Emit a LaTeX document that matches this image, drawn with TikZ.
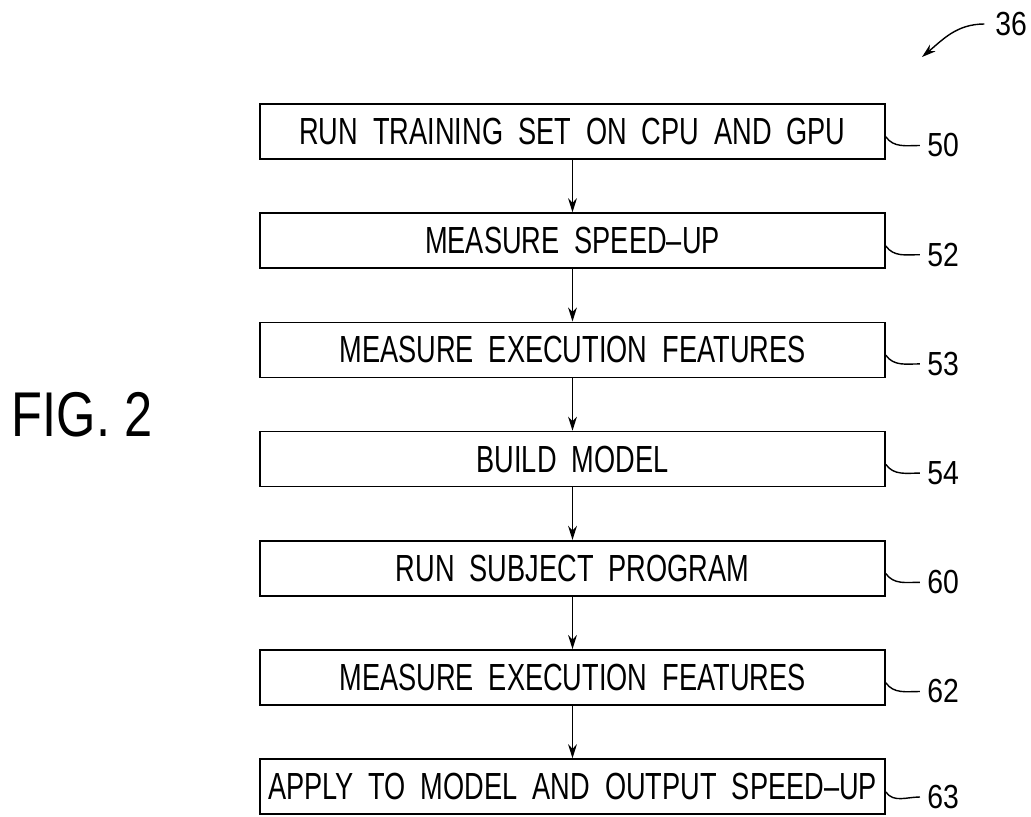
\documentclass[tikz,border=0pt]{standalone}
\usepackage{fontspec}
\setmainfont{Liberation Sans}[FakeStretch=0.72]
\newfontfamily\numfont{Liberation Sans}[FakeStretch=0.85]
\newfontfamily\figfont{Liberation Sans}[FakeStretch=0.8]
\usetikzlibrary{arrows.meta}
\newcommand\stepfont{\fontsize{21.5}{24}\selectfont\spaceskip=0.3cm\relax}
\tikzset{
  stepbox/.style={draw, line width=1pt, minimum width=12.5cm, minimum height=1.1cm, inner sep=0pt, font=\stepfont},
  reflabel/.style={anchor=west, inner sep=0pt, font=\numfont\fontsize{19}{21}\selectfont},
  leader/.style={line width=0.8pt},
  flow/.style={line width=1pt, -{Stealth[length=8pt,width=5pt]}}
}
\begin{document}
\begin{tikzpicture}[x=0.02cm, y=0.02cm]
      \useasboundingbox (0,0) rectangle (1031,816);
      \node[stepbox] (s50) at (572.5,684.5) {RUN TRAINING SET ON CPU AND GPU};
      \node[stepbox] (s52) at (572.5,575.3) {MEASURE SPEED--UP};
      \node[stepbox] (s53) at (572.5,466.1) {MEASURE EXECUTION FEATURES};
      \node[stepbox] (s54) at (572.5,356.9) {BUILD MODEL};
      \node[stepbox] (s60) at (572.5,247.7) {RUN SUBJECT PROGRAM};
      \node[stepbox] (s62) at (572.5,138.5) {MEASURE EXECUTION FEATURES};
      \node[stepbox] (s63) at (572.5,29.3) {APPLY TO MODEL AND OUTPUT SPEED--UP};
      \draw[flow] (s50) -- (s52);
      \draw[flow] (s52) -- (s53);
      \draw[flow] (s53) -- (s54);
      \draw[flow] (s54) -- (s60);
      \draw[flow] (s60) -- (s62);
      \draw[flow] (s62) -- (s63);
      \node[reflabel] (l50) at (927,670.5) {50};
      \node[reflabel] (l52) at (927,561.3) {52};
      \node[reflabel] (l53) at (927,452.1) {53};
      \node[reflabel] (l54) at (927,342.9) {54};
      \node[reflabel] (l60) at (927,233.7) {60};
      \node[reflabel] (l62) at (927,124.5) {62};
      \node[reflabel] (l63) at (927,19) {63};
      \draw[leader] ([yshift=-3]s50.east) to[out=-55,in=180] ([xshift=-4]l50.west);
      \draw[leader] ([yshift=-3]s52.east) to[out=-55,in=180] ([xshift=-4]l52.west);
      \draw[leader] ([yshift=-3]s53.east) to[out=-55,in=180] ([xshift=-4]l53.west);
      \draw[leader] ([yshift=-3]s54.east) to[out=-55,in=180] ([xshift=-4]l54.west);
      \draw[leader] ([yshift=-3]s60.east) to[out=-55,in=180] ([xshift=-4]l60.west);
      \draw[leader] ([yshift=-3]s62.east) to[out=-55,in=180] ([xshift=-4]l62.west);
      \draw[leader] ([yshift=-3]s63.east) to[out=-55,in=180] ([xshift=-4]l63.west);
      \node[reflabel] (l36) at (995,792) {36};
      \coordinate (tip36) at (922,759);
      \draw[leader, -{Stealth[length=8pt,width=5pt]}] ([xshift=-6]l36.west) to[out=180,in=40] (tip36);
      \node[font=\figfont\fontsize{36}{40}\selectfont] (fig) at (82,401) {FIG. 2};
    \end{tikzpicture}
\end{document}
